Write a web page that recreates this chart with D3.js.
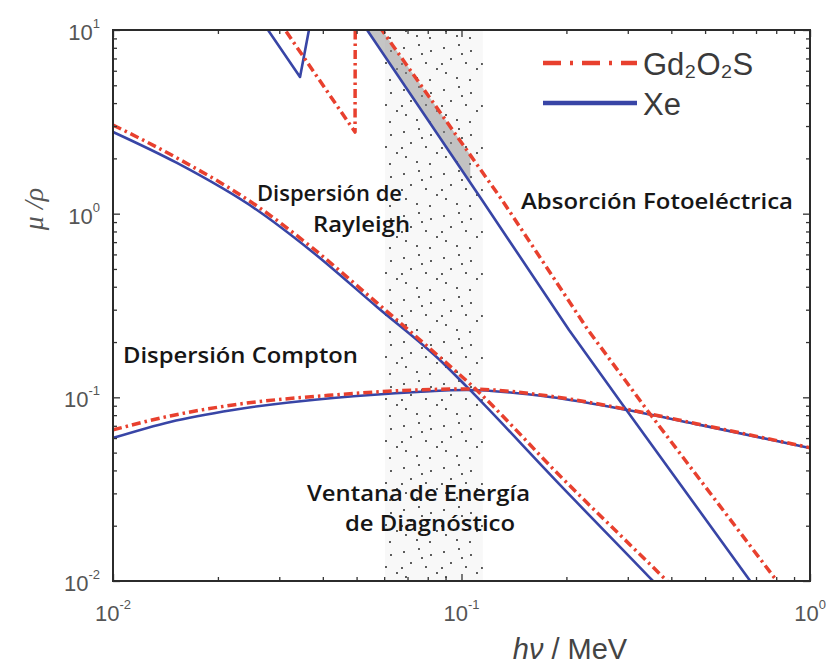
<!DOCTYPE html>
<html>
<head>
<meta charset="utf-8">
<script src="https://cdn.jsdelivr.net/npm/d3@7"></script>
<style>
  body { margin: 0; background: #fff; }
  svg { display: block; }
  .tick-label { font-family: "Liberation Sans", Arial, sans-serif; fill: #555; }
  .note { font-family: "Open Sans", sans-serif; fill: #161616; font-size: 21px; font-weight: 600; }
</style>
</head>
<body>
<main></main>
<script>
// values: photon energy (MeV) and mu/rho (cm2/g)
const photoXeE = [0.026, 0.03441, 0.040, 0.0536, 0.1145, 0.2035, 0.2945, 0.72]
const photoXeMu = [12.1, 5.55, 25, 10, 1.187, 0.2328, 0.0876, 0.0084]
const photoGdE = [0.0292, 0.04949, 0.0496, 0.0591, 0.1307, 0.2307, 0.3406, 0.87]
const photoGdMu = [12.0, 2.78, 25, 10, 1.187, 0.2328, 0.0854, 0.0082]

const rayXeE = [0.01, 0.01526, 0.02589, 0.03675, 0.05722, 0.08847, 0.1037, 0.1917, 0.3543, 0.3914]
const rayXeMu = [2.785, 1.888, 1.047, 0.6346, 0.3105, 0.1539, 0.1139, 0.03335, 0.01, 0.0082]
const rayGdE = [0.01, 0.01526, 0.02589, 0.03675, 0.05722, 0.08847, 0.1058, 0.1943, 0.3888, 0.432]
const rayGdMu = [3.04, 2.01, 1.101, 0.6672, 0.3265, 0.1598, 0.1183, 0.0364, 0.01, 0.0082]

const comptonE = [0.01, 0.01458, 0.0221, 0.04279, 0.07452, 0.1037, 0.1795, 0.2985, 0.4834, 1.0]
const comptonXeMu = [0.0601, 0.0735, 0.0854, 0.0992, 0.107, 0.1097, 0.1005, 0.0854, 0.0708, 0.053]
const comptonGdMu = [0.0665, 0.0792, 0.0909, 0.103, 0.1097, 0.1111, 0.1015, 0.086, 0.0712, 0.0532]

// diagnostic energy window (MeV)
const windowE = [0.0603, 0.1152]

const xTicks = [0.01, 0.1, 1]
const xTickExp = ["-2", "-1", "0"]
const yTicks = [0.01, 0.1, 1, 10]
const yTickExp = ["-2", "-1", "0", "1"]

const seriesNames = ["Gd\u2082O\u2082S", "Xe"]

const notes = [
  { text: "Dispersión de", x: 402, y: 201, anchor: "end", len: 145 },
  { text: "Rayleigh", x: 410, y: 232, anchor: "end", len: 97 },
  { text: "Absorción Fotoeléctrica", x: 521, y: 209, anchor: "start", len: 272 },
  { text: "Dispersión Compton", x: 123, y: 363, anchor: "start", len: 235 },
  { text: "Ventana de Energía", x: 307, y: 501, anchor: "start", len: 223 },
  { text: "de Diagnóstico", x: 345, y: 531, anchor: "start", len: 170 },
]

const doPlot = () => {
  const w = 827
  const h = 666
  const left = 113
  const right = 810
  const top = 30
  const bottom = 581

  const blue = "#3845a6"
  const red = "#e8402e"
  const redDash = "9,4,2.5,4"

  const xScale = d3.scaleLog().domain([0.01, 1]).range([left, right])
  const yScale = d3.scaleLog().domain([0.01, 10]).range([bottom, top])

  const svg = d3.select("main").append("svg").attr("width", w).attr("height", h)

  const defs = svg.append("defs")
  defs
    .append("clipPath")
    .attr("id", "plot-clip")
    .append("rect")
    .attr("x", left)
    .attr("y", top)
    .attr("width", right - left)
    .attr("height", bottom - top)

  // the grey shading only shows in the upper part of the window
  defs
    .append("clipPath")
    .attr("id", "band-clip")
    .append("rect")
    .attr("x", left)
    .attr("y", top)
    .attr("width", xScale(0.106) - left)
    .attr("height", bottom - top)

  // stipple texture for the energy window
  const dotSpots = [
    [4, 6], [19, 3], [31, 9], [11, 17], [26, 21], [37, 27],
    [6, 31], [17, 36], [30, 38], [22, 12], [2, 22],
  ]
  const pattern = defs
    .append("pattern")
    .attr("id", "stipple")
    .attr("patternUnits", "userSpaceOnUse")
    .attr("width", 40)
    .attr("height", 42)
  pattern.append("rect").attr("width", 40).attr("height", 42).attr("fill", "#f8f8f8")
  pattern
    .selectAll("circle")
    .data(dotSpots)
    .enter()
    .append("circle")
    .attr("cx", (d) => d[0])
    .attr("cy", (d) => d[1])
    .attr("r", 0.95)
    .attr("fill", "#1a1a1a")

  const plot = svg.append("g").attr("clip-path", "url(#plot-clip)")

  plot
    .append("rect")
    .attr("x", xScale(windowE[0]))
    .attr("y", top)
    .attr("width", xScale(windowE[1]) - xScale(windowE[0]))
    .attr("height", bottom - top)
    .attr("fill", "url(#stipple)")

  // grey shading between the photoelectric curves
  const band = [
    [photoXeE[3], photoXeMu[3]],
    [photoXeE[4], photoXeMu[4]],
    [photoGdE[4], photoGdMu[4]],
    [photoGdE[3], photoGdMu[3]],
  ]
  plot
    .append("g")
    .attr("clip-path", "url(#band-clip)")
    .append("path")
    .attr("d", d3.line()(band.map((d) => [xScale(d[0]), yScale(d[1])])) + "Z")
    .attr("fill", "#8c8c8c")
    .attr("opacity", 0.5)

  const toPts = (es, ms) => es.map((e, i) => [xScale(e), yScale(ms[i])])
  const smooth = d3.line().curve(d3.curveMonotoneX)
  const straight = d3.line()

  const curves = [
    { pts: toPts(photoXeE, photoXeMu), line: straight, color: blue },
    { pts: toPts(rayXeE, rayXeMu), line: smooth, color: blue },
    { pts: toPts(comptonE, comptonXeMu), line: smooth, color: blue },
    { pts: toPts(photoGdE, photoGdMu), line: straight, color: red, dash: redDash },
    { pts: toPts(rayGdE, rayGdMu), line: smooth, color: red, dash: redDash },
    { pts: toPts(comptonE, comptonGdMu), line: smooth, color: red, dash: redDash },
  ]

  plot
    .selectAll(".curve")
    .data(curves)
    .enter()
    .append("path")
    .attr("class", "curve")
    .attr("d", (d) => d.line(d.pts))
    .attr("fill", "none")
    .attr("stroke", (d) => d.color)
    .attr("stroke-width", (d) => (d.dash ? 3.5 : 2.6))
    .attr("stroke-dasharray", (d) => d.dash || null)
    .attr("stroke-linejoin", "round")

  // axes with inward ticks on all sides
  const minors = (lo, hi) => {
    const out = []
    for (let dec = lo; dec < hi; dec *= 10) {
      for (let k = 2; k <= 9; k++) out.push(dec * k)
    }
    return out
  }
  const xMinor = minors(0.01, 1)
  const yMinor = minors(0.01, 10)

  const addAxis = (axis, major, minor, transform) => {
    svg.append("g").attr("transform", transform)
      .call(axis.tickValues(major).tickSize(-7).tickFormat(""))
    svg.append("g").attr("transform", transform)
      .call(axis.tickValues(minor).tickSize(-4).tickFormat(""))
    svg.selectAll(".domain").attr("stroke", "none")
    svg.selectAll(".tick line").attr("stroke", "#333").attr("stroke-width", 1.3)
  }
  addAxis(d3.axisBottom(xScale), xTicks, xMinor, `translate(0, ${bottom})`)
  addAxis(d3.axisTop(xScale), xTicks, xMinor, `translate(0, ${top})`)
  addAxis(d3.axisLeft(yScale), yTicks, yMinor, `translate(${left}, 0)`)
  addAxis(d3.axisRight(yScale), yTicks, yMinor, `translate(${right}, 0)`)

  svg
    .append("rect")
    .attr("x", left)
    .attr("y", top)
    .attr("width", right - left)
    .attr("height", bottom - top)
    .attr("fill", "none")
    .attr("stroke", "#2b2b2b")
    .attr("stroke-width", 2)

  // tick labels 10^n
  const xLab = svg
    .selectAll(".xlab")
    .data(xTicks)
    .enter()
    .append("text")
    .attr("class", "tick-label")
    .attr("x", (d) => xScale(d))
    .attr("y", bottom + 40)
    .attr("text-anchor", "middle")
  xLab.append("tspan").attr("font-size", 22).text("10")
  xLab
    .append("tspan")
    .attr("font-size", 13)
    .attr("dy", -12)
    .text((d, i) => xTickExp[i])

  const yLab = svg
    .selectAll(".ylab")
    .data(yTicks)
    .enter()
    .append("text")
    .attr("class", "tick-label")
    .attr("x", left - 13)
    .attr("y", (d) => yScale(d) + 10)
    .attr("text-anchor", "end")
  yLab.append("tspan").attr("font-size", 22).text("10")
  yLab
    .append("tspan")
    .attr("font-size", 13)
    .attr("dy", -12)
    .text((d, i) => yTickExp[i])

  // axis titles
  const xt = svg
    .append("text")
    .attr("x", 570)
    .attr("y", 659)
    .attr("text-anchor", "middle")
    .attr("font-family", "Liberation Sans, Arial, sans-serif")
    .attr("font-size", 29)
    .attr("fill", "#444")
  xt.append("tspan").attr("font-style", "italic").text("h\u03bd")
  xt.append("tspan").text(" / MeV")

  svg
    .append("text")
    .attr("transform", "translate(43, 209) rotate(-90)")
    .attr("text-anchor", "middle")
    .attr("font-family", "Liberation Serif, serif")
    .attr("font-style", "italic")
    .attr("font-size", 28)
    .attr("fill", "#555")
    .text("\u03bc /\u03c1")

  // annotations
  svg
    .selectAll(".note")
    .data(notes)
    .enter()
    .append("text")
    .attr("class", "note")
    .attr("x", (d) => d.x)
    .attr("y", (d) => d.y)
    .attr("text-anchor", (d) => d.anchor)
    .attr("textLength", (d) => d.len)
    .attr("lengthAdjust", "spacingAndGlyphs")
    .text((d) => d.text)

  // legend
  const legend = svg.append("g").attr("id", "legend")
  const legendItems = [
    { name: seriesNames[0], color: red, dash: "18,9,3,9", y: 63 },
    { name: seriesNames[1], color: blue, dash: null, y: 103 },
  ]
  const item = legend.selectAll("g").data(legendItems).enter().append("g")
  item
    .append("line")
    .attr("x1", 543)
    .attr("x2", 637)
    .attr("y1", (d) => d.y)
    .attr("y2", (d) => d.y)
    .attr("stroke", (d) => d.color)
    .attr("stroke-width", 4.5)
    .attr("stroke-dasharray", (d) => d.dash)
  item
    .append("text")
    .attr("x", 643)
    .attr("y", (d) => d.y + 12)
    .attr("font-family", "Liberation Sans, Arial, sans-serif")
    .attr("font-size", 31)
    .attr("fill", "#3a3a3a")
    .text((d) => d.name)
}

doPlot()
</script>
</body>
</html>
